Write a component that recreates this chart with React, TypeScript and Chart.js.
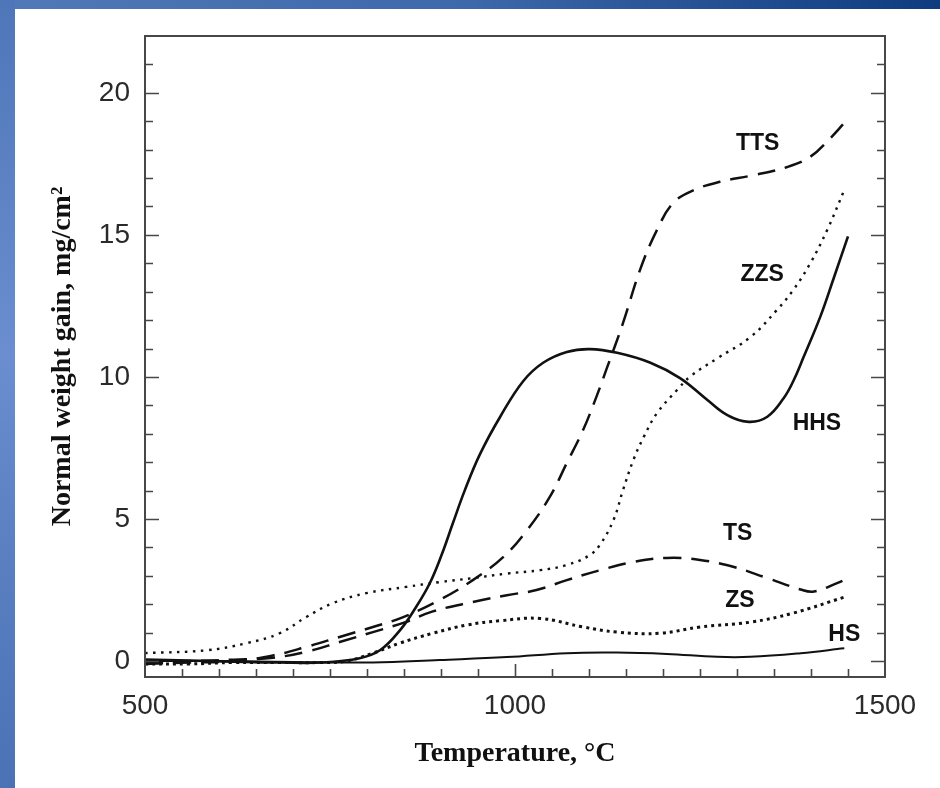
import React, { useEffect, useRef } from "react";
import { Chart, registerables } from "chart.js";

Chart.register(...registerables);

// ---- Data (temperature in °C, normal weight gain in mg/cm²) ----
const hhsTemp = [500, 560, 620, 680, 740, 790, 818, 845, 865, 885, 901, 916, 932, 953, 980, 1011, 1038, 1070, 1101, 1138, 1183, 1223, 1260, 1287, 1316, 1341, 1363, 1376, 1390, 1413, 1431, 1450];
const hhsGain = [0.05, 0.02, -0.02, -0.05, -0.05, 0.1, 0.39, 1.1, 1.85, 2.75, 3.75, 4.85, 6.0, 7.3, 8.6, 9.85, 10.5, 10.88, 10.98, 10.85, 10.5, 9.96, 9.19, 8.66, 8.42, 8.6, 9.25, 9.85, 10.7, 12.15, 13.5, 14.95];

const ttsTemp = [500, 560, 620, 673, 718, 763, 808, 849, 898, 943, 984, 1016, 1047, 1070, 1092, 1110, 1124, 1146, 1169, 1192, 1214, 1242, 1277, 1322, 1368, 1399, 1426, 1445];
const ttsGain = [-0.1, -0.05, 0.0, 0.2, 0.5, 0.85, 1.2, 1.55, 2.15, 2.85, 3.66, 4.6, 5.78, 6.97, 8.13, 9.3, 10.3, 11.9, 13.77, 15.18, 16.13, 16.58, 16.87, 17.1, 17.39, 17.75, 18.4, 18.94];

const tsTemp = [500, 560, 620, 673, 718, 763, 808, 853, 889, 943, 989, 1029, 1070, 1115, 1160, 1205, 1250, 1296, 1341, 1386, 1404, 1436, 1445];
const tsGain = [-0.05, 0.0, 0.05, 0.12, 0.33, 0.67, 1.02, 1.38, 1.75, 2.08, 2.32, 2.5, 2.85, 3.2, 3.49, 3.63, 3.56, 3.31, 2.92, 2.52, 2.45, 2.75, 2.85];

const zzsTemp = [500, 583, 637, 682, 718, 754, 799, 853, 898, 943, 989, 1034, 1070, 1101, 1115, 1133, 1146, 1160, 1174, 1192, 1219, 1237, 1273, 1318, 1354, 1376, 1399, 1422, 1445];
const zzsGain = [0.28, 0.38, 0.63, 0.98, 1.55, 2.04, 2.39, 2.61, 2.78, 2.92, 3.08, 3.2, 3.38, 3.73, 4.1, 4.96, 6.02, 7.08, 7.89, 8.73, 9.54, 10.02, 10.65, 11.4, 12.36, 13.06, 14.0, 15.18, 16.58];

const zsTemp = [500, 560, 620, 680, 740, 772, 808, 844, 889, 935, 980, 1034, 1092, 1138, 1196, 1250, 1318, 1376, 1445];
const zsGain = [-0.1, -0.1, -0.05, -0.05, -0.05, 0.0, 0.28, 0.63, 0.98, 1.27, 1.42, 1.5, 1.2, 1.02, 0.98, 1.2, 1.37, 1.69, 2.25];

const hsTemp = [500, 600, 700, 808, 898, 989, 1070, 1138, 1205, 1273, 1318, 1386, 1445];
const hsGain = [0.0, 0.0, -0.03, -0.05, 0.04, 0.14, 0.28, 0.3, 0.25, 0.15, 0.15, 0.28, 0.45];

const xTickLabels = [500, 1000, 1500];
const yTickLabels = [0, 5, 10, 15, 20];

const curveNames = ["TTS", "ZZS", "HHS", "TS", "ZS", "HS"];
const curveLabelTemp = [1328, 1334, 1408, 1301, 1304, 1445];
const curveLabelGain = [18.2, 13.6, 8.35, 4.47, 2.11, 0.92];

const toPoints = (xs: number[], ys: number[]) => xs.map((x, i) => ({ x, y: ys[i] }));

const framePlugin = {
  id: "frameTicksLabels",
  afterDraw(chart: any) {
    const { ctx, chartArea: a, scales } = chart;
    const xs = scales.x;
    const ys = scales.y;
    ctx.save();
    ctx.strokeStyle = "#474747";
    ctx.lineWidth = 1.6;
    // inward tick marks on left and right
    for (let v = 0; v <= 21; v++) {
      const p = Math.round(ys.getPixelForValue(v)) + 0.5;
      const len = v % 5 === 0 ? 14 : 8;
      ctx.beginPath();
      ctx.moveTo(a.left, p);
      ctx.lineTo(a.left + len, p);
      ctx.moveTo(a.right, p);
      ctx.lineTo(a.right - len, p);
      ctx.stroke();
    }
    // inward tick marks on bottom
    for (let t = 550; t <= 1450; t += 50) {
      const p = Math.round(xs.getPixelForValue(t)) + 0.5;
      const len = t % 500 === 0 ? 13 : 8;
      ctx.beginPath();
      ctx.moveTo(p, a.bottom);
      ctx.lineTo(p, a.bottom - len);
      ctx.stroke();
    }
    // frame
    ctx.lineWidth = 2;
    ctx.strokeRect(a.left, a.top, a.right - a.left, a.bottom - a.top);
    // curve labels
    ctx.fillStyle = "#111";
    ctx.font = 'bold 23px "Liberation Sans", Arial, sans-serif';
    ctx.textAlign = "center";
    ctx.textBaseline = "middle";
    curveNames.forEach((n, i) => {
      ctx.fillText(n, xs.getPixelForValue(curveLabelTemp[i]), ys.getPixelForValue(curveLabelGain[i]));
    });
    ctx.restore();
  },
};

export default function App() {
  const ref = useRef<HTMLCanvasElement | null>(null);

  useEffect(() => {
    if (!ref.current) return;
    const base = {
      borderColor: "#111",
      pointRadius: 0,
      fill: false,
      tension: 0.4,
    };
    const chart = new Chart(ref.current, {
      type: "line",
      data: {
        datasets: [
          { ...base, label: "HHS", data: toPoints(hhsTemp, hhsGain), borderWidth: 2.6 },
          { ...base, label: "TTS", data: toPoints(ttsTemp, ttsGain), borderWidth: 2.5, borderDash: [18, 10] },
          { ...base, label: "TS", data: toPoints(tsTemp, tsGain), borderWidth: 2.5, borderDash: [18, 10] },
          { ...base, label: "ZZS", data: toPoints(zzsTemp, zzsGain), borderWidth: 2.4, borderDash: [2.5, 5.5] },
          { ...base, label: "ZS", data: toPoints(zsTemp, zsGain), borderWidth: 3, borderDash: [3, 4] },
          { ...base, label: "HS", data: toPoints(hsTemp, hsGain), borderWidth: 2 },
        ],
      },
      options: {
        animation: false,
        responsive: false,
        maintainAspectRatio: false,
        layout: { padding: { top: 36, right: 55, left: 0, bottom: 0 } },
        plugins: { legend: { display: false }, tooltip: { enabled: false } },
        scales: {
          x: {
            type: "linear",
            min: 500,
            max: 1500,
            afterBuildTicks: (s: any) => {
              s.ticks = xTickLabels.map((v) => ({ value: v }));
            },
            afterFit: (s: any) => {
              s.height = 111;
            },
            grid: { display: false, drawTicks: false },
            border: { display: false },
            ticks: {
              padding: 12,
              maxRotation: 0,
              autoSkip: false,
              color: "#2a2a2a",
              callback: (v: any) => String(v),
              font: { family: '"Liberation Sans", Arial, sans-serif', size: 28 },
            },
            title: {
              display: true,
              text: "Temperature, °C",
              color: "#111",
              font: { family: '"Liberation Serif", "Times New Roman", serif', size: 28, weight: "bold" },
              padding: { top: 0, bottom: 17 },
            },
          },
          y: {
            type: "linear",
            min: -0.56,
            max: 22,
            afterBuildTicks: (s: any) => {
              s.ticks = yTickLabels.map((v) => ({ value: v }));
            },
            afterFit: (s: any) => {
              s.width = 145;
            },
            grid: { display: false, drawTicks: false },
            border: { display: false },
            ticks: {
              padding: 15,
              autoSkip: false,
              color: "#2a2a2a",
              callback: (v: any) => String(v),
              font: { family: '"Liberation Sans", Arial, sans-serif', size: 28 },
            },
            title: {
              display: true,
              text: "Normal weight gain, mg/cm²",
              color: "#111",
              font: { family: '"Liberation Serif", "Times New Roman", serif', size: 28, weight: "bold" },
              padding: { top: 46, bottom: 0 },
            },
          },
        },
      },
      plugins: [framePlugin],
    });
    return () => chart.destroy();
  }, []);

  return (
    <div style={{ position: "absolute", left: 0, top: 0, width: 940, height: 788, background: "#fff", overflow: "hidden" }}>
      <div
        style={{
          position: "absolute",
          left: 0,
          top: 0,
          width: 940,
          height: 9,
          background: "linear-gradient(to right, #5279b9 0%, #3d68aa 50%, #0e3c7e 100%)",
        }}
      />
      <div
        style={{
          position: "absolute",
          left: 0,
          top: 0,
          width: 15,
          height: 788,
          background: "linear-gradient(to bottom, #4e76b8 0%, #6a8ecf 45%, #5a80c2 70%, #4a72b4 100%)",
        }}
      />
      <canvas ref={ref} width={940} height={788} style={{ position: "absolute", left: 0, top: 0, width: 940, height: 788 }} />
    </div>
  );
}
